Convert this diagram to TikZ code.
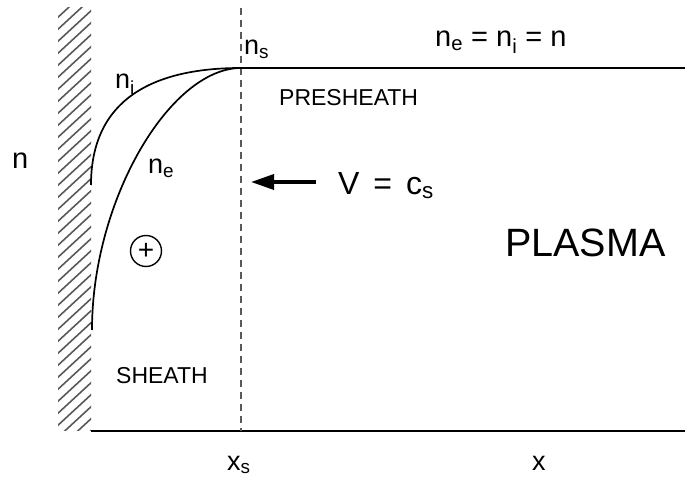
\documentclass[tikz,border=0pt]{standalone}
\usepackage{fontspec}
\setmainfont{Liberation Sans}
\usetikzlibrary{arrows.meta}
\newcommand\myfs[1]{\fontsize{#1}{#1}\selectfont}
\begin{document}
\begin{tikzpicture}[x=1pt,y=-1pt,
  lab/.style={inner sep=0pt,anchor=base west},
  curve/.style={line width=1.7pt},
  hatchline/.style={line width=1.6pt,black!65},
  sep/.style={dashed,dash pattern=on 7pt off 5pt,line width=1.1pt,black!65}]
\useasboundingbox (0,0) rectangle (685,478);
% wall hatching
\begin{scope}
  \clip (58,8) rectangle (91,430);
  \foreach \i in {-40,-28,...,450} \draw[hatchline] (55,\i+36) -- (94,\i);
\end{scope}
% coordinates
\coordinate (wallI) at (91,185);
\coordinate (wallE) at (92,330);
\coordinate (top) at (241,68);
\coordinate (topR) at (685,68);
\coordinate (axL) at (91,431);
\coordinate (axR) at (685,431);
\coordinate (dashT) at (241,8);
\coordinate (dashB) at (241,431);
% axis and separator
\draw[line width=1.6pt] (axL) -- (axR);
\draw[sep] (dashT) -- (dashB);
% density curves
\draw[curve] (wallI) .. controls (91,100) and (152,68) .. (top);
\draw[curve] (wallE) .. controls (92,200) and (170,68) .. (top);
\draw[curve] (top) -- (topR);
% arrow
\coordinate (arrS) at (316,182);
\coordinate (arrE) at (251,182);
\draw[line width=3.5pt,-{Triangle[length=23pt,width=15pt]}] (arrS) -- (arrE);
% ion
\node[draw,circle,line width=1.4pt,minimum size=31pt,inner sep=0pt] (ion) at (146,251) {\myfs{28}+};
% labels
\node[lab] (nlab) at (12,169) {\myfs{29}n};
\node[lab] (nilab) at (115,89) {\myfs{27}n\textsubscript{i}};
\node[lab] (nelab) at (148,174) {\myfs{27}n\textsubscript{e}};
\node[lab] (nslab) at (244,55) {\myfs{27}n\textsubscript{s}};
\node[lab] (eqlab) at (435,47) {\myfs{29}n\textsubscript{e} = n\textsubscript{i} = n};
\node[lab] (pre) at (279,106) {\myfs{23}PRESHEATH};
\node[lab] (sh) at (116,383) {\myfs{23}SHEATH};
\node[lab] (vcs) at (338,195) {\myfs{32}V\hspace{5pt} = \hspace{5pt}c\textsubscript{s}};
\node[lab] (plasma) at (505,257) {\myfs{39.5}PLASMA};
\node[lab] (xs) at (227,470) {\myfs{27}x\textsubscript{s}};
\node[lab] (xlab) at (532,470) {\myfs{27}x};
\end{tikzpicture}
\end{document}
